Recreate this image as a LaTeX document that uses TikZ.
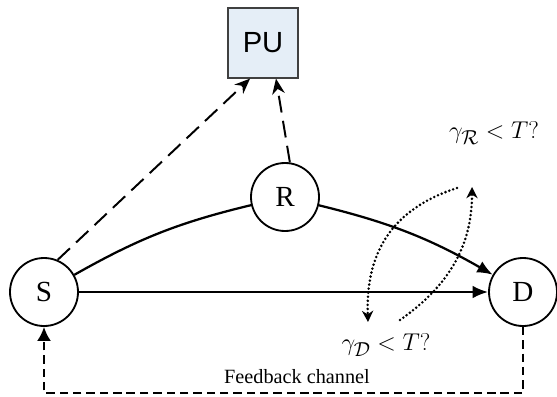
\documentclass[tikz,border=0pt]{standalone}
\usepackage{amsmath,amssymb}
\usepackage{fontspec}
\setmainfont{Liberation Serif}
\newfontfamily\pufont{Liberation Sans}
\usetikzlibrary{arrows.meta}
\definecolor{puBlue}{RGB}{229,238,247}

\begin{document}
\begin{tikzpicture}[every node/.style={font=\huge},
	station/.style={circle, draw, line width=1.3pt, fill=white, minimum size=1.7cm, inner sep=0pt},
	link/.style={line width=1.6pt, -{Latex[length=11pt,width=9pt]}},
	sense/.style={line width=1.4pt, dash pattern=on 12pt off 6pt, -{Stealth[length=11pt,width=9pt]}},
	probe/.style={line width=2pt, line cap=round, dash pattern=on 0pt off 2.9pt, -{Stealth[length=8pt,width=8pt]}},
	feedback/.style={line width=1.6pt, dash pattern=on 6pt off 3.5pt, -{Latex[length=10pt,width=10pt]}}]
	\useasboundingbox (-1.1,-2.6) rectangle (12.825,7.3);
	\node[draw=black!75, fill=puBlue, line width=0.9pt, minimum size=1.75cm, font=\huge\pufont] (pu) at (5.475,6.225) {PU};
	\foreach \n/\x/\y in {S/0/0, R/6.025/2.375, D/11.975/0} {\node[station] (\n) at (\x,\y) {\n};}
	\draw[link] (S) -- (D);
	\draw[line width=1.6pt] (S) to[bend left=8] (R);
	\draw[link] (R) to[bend left=8] (D);
	\draw[sense] (S.67) -- (pu.-110);
	\draw[sense] (R.82) -- (pu.-70);
	\coordinate (dtop) at (10.325,2.6); \coordinate (dbot) at (8.1,-0.75);
	\coordinate (rbot) at (8.9,-0.7); \coordinate (rtop) at (10.7,2.625);
	\draw[probe] (dtop) to[out=198, in=92, looseness=1.1] (dbot);
	\draw[probe] (rbot) to[out=35, in=-90] (rtop);
	\node[font=\fontsize{19}{22}\selectfont] (gr) at (11.25,3.975) {$\gamma_{\mathcal{R}} < T?$};
	\node[font=\fontsize{19}{22}\selectfont] (gd) at (8.55,-1.325) {$\gamma_{\mathcal{D}} < T?$};
	\draw[feedback] (D.south) -- ++(0,-1.65) -| (S.south);
	\node[font=\Large] (fb) at (6.325,-2.125) {Feedback channel};
\end{tikzpicture}
\end{document}
